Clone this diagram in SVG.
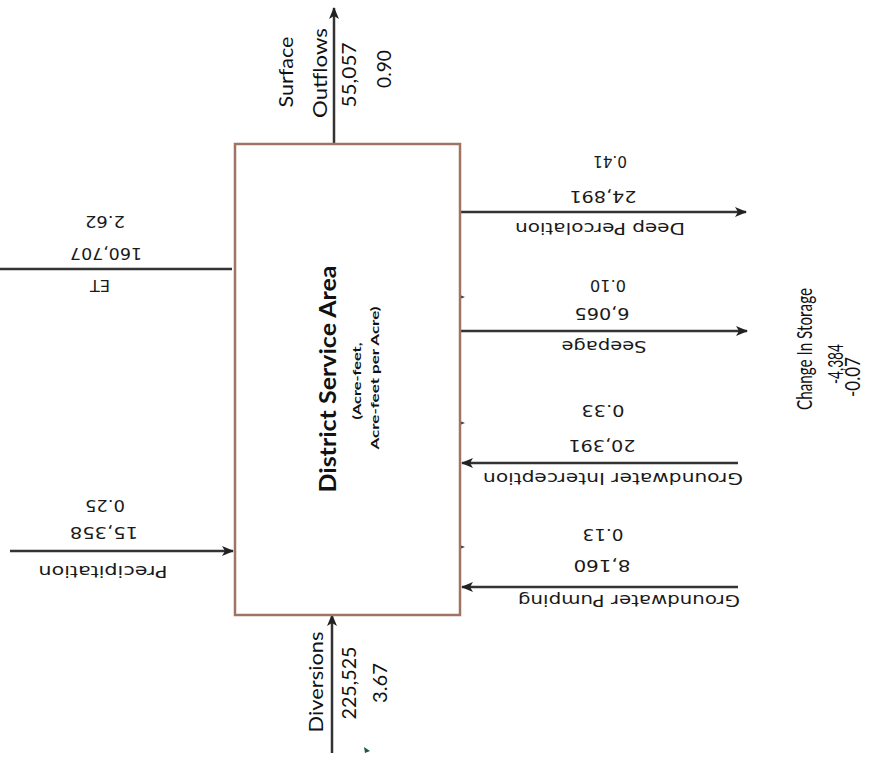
<svg xmlns="http://www.w3.org/2000/svg" width="877" height="763" viewBox="0 0 877 763">
<defs>
<style>
.ln{stroke:#333;stroke-width:2.5;fill:none}
.v{font-family:Lato,"Open Sans","Liberation Sans",sans-serif;font-size:20px;fill:#111;text-anchor:middle}
.cs{font-size:22px}
.u{font-family:"DejaVu Sans","Liberation Sans",sans-serif;font-size:16px;fill:#1a1a1a;text-anchor:middle}
.t{font-family:Lato,"Open Sans","Liberation Sans",sans-serif;fill:#111;text-anchor:middle;font-weight:bold}
</style>
<marker id="ah" viewBox="0 0 12 10" refX="11" refY="5" markerWidth="12" markerHeight="10" markerUnits="userSpaceOnUse" orient="auto">
<path d="M0,0 L12,5 L0,10 L3,5 z" fill="#222"/>
</marker>
</defs>
<rect width="877" height="763" fill="#fff"/>

<g id="connectors">
<line class="ln" x1="334" y1="144" x2="334" y2="8" marker-end="url(#ah)"/>
<line class="ln" x1="232" y1="269" x2="0" y2="269"/>
<line class="ln" x1="10" y1="551" x2="233" y2="551" marker-end="url(#ah)"/>
<line class="ln" x1="460" y1="212" x2="746" y2="212" marker-end="url(#ah)"/>
<line class="ln" x1="460" y1="331" x2="747" y2="331" marker-end="url(#ah)"/>
<line class="ln" x1="738" y1="463" x2="462" y2="463" marker-end="url(#ah)"/>
<line class="ln" x1="738" y1="587" x2="462" y2="587" marker-end="url(#ah)"/>
<line class="ln" x1="332" y1="753" x2="332" y2="615" marker-end="url(#ah)"/>
<path d="M460,295 l5,2 l-5,2 z M460,421 l5,2 l-5,2 z M460,545 l5,2 l-5,2 z" fill="#444"/>
<path d="M364,747 l6,4 l-5,2 z" fill="#1f5a48"/>
</g>

<g id="district-service-area">
<rect x="235" y="144" width="225" height="471" fill="#fff" stroke="#a07464" stroke-width="2.5"/>
<text class="t" font-size="22" textLength="227" lengthAdjust="spacingAndGlyphs" transform="translate(336,379) rotate(-90)">District Service Area</text>
<text class="t" font-size="12" textLength="77" lengthAdjust="spacingAndGlyphs" transform="translate(361,381) rotate(-90)">(Acre-feet,</text>
<text class="t" font-size="12" textLength="143" lengthAdjust="spacingAndGlyphs" transform="translate(379,378) rotate(-90)">Acre-feet per Acre)</text>
</g>

<g id="surface-outflows">
<text class="v" textLength="71" lengthAdjust="spacingAndGlyphs" transform="translate(293,72) rotate(-90)">Surface</text>
<text class="v" textLength="90" lengthAdjust="spacingAndGlyphs" transform="translate(327,73) rotate(-90)">Outflows</text>
<text class="v" textLength="65" lengthAdjust="spacingAndGlyphs" transform="translate(356,75) rotate(-90)">55,057</text>
<text class="v" textLength="38" lengthAdjust="spacingAndGlyphs" transform="translate(391,69) rotate(-90)">0.90</text>
</g>

<g id="diversions">
<text class="v" textLength="101" lengthAdjust="spacingAndGlyphs" transform="translate(323,682) rotate(-90)">Diversions</text>
<text class="v" textLength="73" lengthAdjust="spacingAndGlyphs" transform="translate(356,683) rotate(-90)">225,525</text>
<text class="v" textLength="40" lengthAdjust="spacingAndGlyphs" transform="translate(387,683) rotate(-90)">3.67</text>
</g>

<g id="change-in-storage">
<text class="v cs" textLength="122" lengthAdjust="spacingAndGlyphs" transform="translate(812,349) rotate(-90)">Change In Storage</text>
<text class="v cs" textLength="40" lengthAdjust="spacingAndGlyphs" transform="translate(843,364) rotate(-90)">-4,384</text>
<text class="v cs" textLength="40" lengthAdjust="spacingAndGlyphs" transform="translate(860,377) rotate(-90)">-0.07</text>
</g>

<g id="et">
<text class="u" transform="translate(100,280) rotate(180)">ET</text>
<text class="u" textLength="72" lengthAdjust="spacingAndGlyphs" transform="translate(106,248) rotate(180)">160,707</text>
<text class="u" textLength="40" lengthAdjust="spacingAndGlyphs" transform="translate(105,216) rotate(180)">2.62</text>
</g>

<g id="precipitation">
<text class="u" textLength="129" lengthAdjust="spacingAndGlyphs" transform="translate(103,566) rotate(180)">Precipitation</text>
<text class="u" textLength="68" lengthAdjust="spacingAndGlyphs" transform="translate(104,527) rotate(180)">15,358</text>
<text class="u" textLength="40" lengthAdjust="spacingAndGlyphs" transform="translate(105,500) rotate(180)">0.25</text>
</g>

<g id="deep-percolation">
<text class="u" textLength="170" lengthAdjust="spacingAndGlyphs" transform="translate(600,223) rotate(180)">Deep Percolation</text>
<text class="u" textLength="67" lengthAdjust="spacingAndGlyphs" transform="translate(603,191) rotate(180)">24,891</text>
<text class="u" textLength="34" lengthAdjust="spacingAndGlyphs" transform="translate(610,156) rotate(180)">0.41</text>
</g>

<g id="seepage">
<text class="u" textLength="85" lengthAdjust="spacingAndGlyphs" transform="translate(604,341) rotate(180)">Seepage</text>
<text class="u" textLength="55" lengthAdjust="spacingAndGlyphs" transform="translate(602,308) rotate(180)">6,065</text>
<text class="u" textLength="36" lengthAdjust="spacingAndGlyphs" transform="translate(608,280) rotate(180)">0.10</text>
</g>

<g id="groundwater-interception">
<text class="u" textLength="260" lengthAdjust="spacingAndGlyphs" transform="translate(613,473) rotate(180)">Groundwater Interception</text>
<text class="u" textLength="67" lengthAdjust="spacingAndGlyphs" transform="translate(602,440) rotate(180)">20,391</text>
<text class="u" textLength="43" lengthAdjust="spacingAndGlyphs" transform="translate(603,405) rotate(180)">0.33</text>
</g>

<g id="groundwater-pumping">
<text class="u" textLength="222" lengthAdjust="spacingAndGlyphs" transform="translate(629,595) rotate(180)">Groundwater Pumping</text>
<text class="u" textLength="57" lengthAdjust="spacingAndGlyphs" transform="translate(602,560) rotate(180)">8,160</text>
<text class="u" textLength="41" lengthAdjust="spacingAndGlyphs" transform="translate(603,529) rotate(180)">0.13</text>
</g>
</svg>
